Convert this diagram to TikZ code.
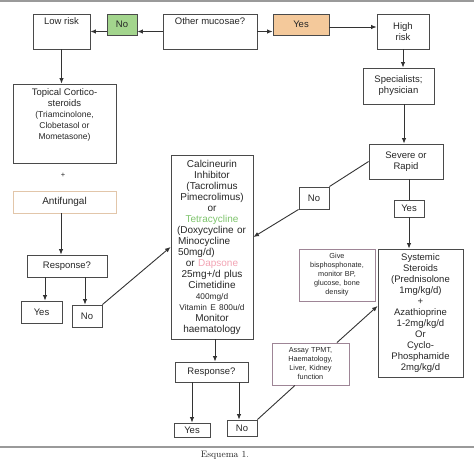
\documentclass[tikz,border=0pt]{standalone}
\usepackage{fontspec}
\newfontfamily\arialf{Liberation Sans}
\usetikzlibrary{arrows.meta,calc}
\definecolor{ln}{HTML}{333333}
\definecolor{bd}{HTML}{4A4A4A}
\definecolor{tx}{HTML}{262626}
\definecolor{gfill}{HTML}{A3D58D}
\definecolor{ofill}{HTML}{F4C99B}
\definecolor{tetra}{HTML}{7DC36B}
\definecolor{daps}{HTML}{F2A3B3}
\definecolor{pbd}{HTML}{9E8596}
\definecolor{tbd}{HTML}{E2C6AA}
\definecolor{rulec}{HTML}{9A9A9A}
\newcommand\fsm{\fontsize{8.5}{10.6}\selectfont}
\newcommand\fxs{\fontsize{8.3}{11}\selectfont}
\begin{document}
\begin{tikzpicture}[x=1pt,y=-1pt,
  box/.style={draw=bd, line width=0.9pt, inner sep=1pt, align=center,
    font=\arialf\fontsize{9.5}{11}\selectfont, text=tx},
  txt/.style={font=\arialf\fontsize{9.5}{11}\selectfont, text=tx, align=center},
  small/.style={font=\arialf\fontsize{7.3}{9}\selectfont},
  arr/.style={draw=ln, line width=0.9pt, -{Latex[length=5.5pt,width=4.6pt]}},
  ln/.style={draw=ln, line width=0.9pt},
  rule/.style={draw=rulec, line width=2pt}]
\useasboundingbox (0,0) rectangle (474,461);
\draw[rule] (0,1) -- (474,1);
\draw[rule] (0,447) -- (474,447);

% top row
\node[box, minimum width=57pt, minimum height=35pt,
  label={[txt,anchor=north,yshift=-1pt]north:Low risk}] (lr) at (61.5,31.5) {};
\node[box, fill=gfill, minimum width=30pt, minimum height=21pt] (no1) at (122,24.5) {No};
\node[box, minimum width=94pt, minimum height=35pt,
  label={[txt,anchor=north,yshift=-1pt]north:Other mucosae?}] (om) at (210,31.5) {};
\node[box, fill=ofill, draw=bd, minimum width=56pt, minimum height=21pt] (yes1) at (301,24.5) {Yes};
\node[box, minimum width=52pt, minimum height=35pt] (hr) at (403,31.5) {High\\risk};

% right column
\node[box, minimum width=71pt, minimum height=36pt] (sp) at (398.5,86) {Specialists;\\physician};
\node[box, minimum width=74pt, minimum height=35pt] (sv) at (406,161.5) {Severe or\\Rapid};
\node[box, minimum width=30pt, minimum height=22pt] (no2) at (314,198) {No};
\node[box, minimum width=30pt, minimum height=17pt] (yes2) at (409,208.5) {Yes};
\node[box, minimum width=85pt, minimum height=128pt, text width=81pt] (sys) at (420.5,313)
  {Systemic\\Steroids\\(Prednisolone\\1mg/kg/d)\\+\\Azathioprine\\1-2mg/kg/d\\Or\\Cyclo-\\Phosphamide\\2mg/kg/d};
\node[box, small, draw=pbd, minimum width=76pt, minimum height=52pt, text width=72pt] (gb) at (337,275)
  {Give\\bisphosphonate,\\monitor BP,\\glucose, bone\\density};
\node[box, small, draw=pbd, minimum width=77pt, minimum height=42pt, text width=73pt] (at) at (310.5,364)
  {Assay TPMT,\\Haematology,\\Liver, Kidney\\function};

% middle column
\node[box, font=\arialf\fontsize{10}{11}\selectfont, minimum width=82pt, minimum height=184pt, text width=76pt] (ci) at (212,247)
  {Calcineurin\\Inhibitor\\(Tacrolimus\\Pimecrolimus)\\or\\{\color{tetra}Tetracycline}\\
   \makebox[\linewidth][l]{\hspace{3pt}(Doxycycline or}\\
   \makebox[\linewidth][l]{\hspace{4pt}Minocycline}\\
   \makebox[\linewidth][l]{\hspace{4pt}50mg/d)}\\
   or {\color{daps}Dapsone}\\25mg+/d plus\\Cimetidine\\{\fxs 400mg/d}\\{\fxs Vitamin E 800u/d}\\Monitor\\haematology};
\node[box, minimum width=73pt, minimum height=20pt] (rs2) at (211.5,372) {Response?};
\node[box, minimum width=36pt, minimum height=14pt] (yes3) at (192,430) {Yes};
\node[box, minimum width=30pt, minimum height=16pt] (no3) at (242,428) {No};

% left column
\node[box, minimum width=103pt, minimum height=79pt,
  label={[txt,anchor=north,yshift=-2pt]north:Topical Cortico-\\steroids\\{\fsm(Triamcinolone,}\\{\fsm Clobetasol or}\\{\fsm Mometasone)}}] (tc) at (64.5,123.5) {};
\node[txt, font=\arialf\fontsize{7.5}{8}\selectfont] (plus) at (63,175) {+};
\node[box, draw=tbd, font=\arialf\fontsize{10}{12}\selectfont, minimum width=103pt, minimum height=22pt] (af) at (64.5,202) {Antifungal};
\node[box, minimum width=80pt, minimum height=22pt] (rs1) at (67,266) {Response?};
\node[box, minimum width=41pt, minimum height=22pt] (yes4) at (41.5,312) {Yes};
\node[box, minimum width=30pt, minimum height=22pt] (no4) at (87,316) {No};

\node[font=\fontsize{9.3}{10}\selectfont, text=tx] (cap) at (225,455) {Esquema 1.};

% connectors
\draw[arr] (om.west) -- (om.west -| no1.east);
\draw[arr] (om.west -| no1.west) -- (lr.east);
\draw[arr] (om.east) -- (om.east -| yes1.west);
\draw[arr] ([yshift=-2.5pt]yes1.east) -- ([yshift=-2.5pt]yes1.east -| hr.west);
\draw[arr] (hr.south) -- (hr.south |- sp.north);
\draw[arr] ([xshift=5.5pt]sp.south) -- ([xshift=5.5pt]sp.south |- sv.north);
\draw[ln] (yes2.north |- sv.south) -- (yes2.north);
\draw[arr] (yes2.south) -- (yes2.south |- sys.north);
\draw[ln] (sv.west) -- (no2.north east);
\draw[arr] (no2.south west) -- ([yshift=10pt]ci.east);
\draw[arr] (lr.south) -- (lr.south |- tc.north);
\draw[arr] ([xshift=-3.5pt]af.south) -- ([xshift=-3.5pt]af.south |- rs1.north);
\draw[arr] ([xshift=-22pt]rs1.south) -- ([xshift=-22pt]rs1.south |- yes4.north);
\draw[arr] ([xshift=18pt]rs1.south) -- ([xshift=18pt]rs1.south |- no4.north);
\draw[arr] (no4.north east) -- (ci.west);
\draw[arr] ([xshift=3pt]ci.south) -- ([xshift=3pt]ci.south |- rs2.north);
\draw[arr] (yes3.north |- rs2.south) -- (yes3.north);
\draw[arr] ([xshift=-3pt]no3.north |- rs2.south) -- ([xshift=-3pt]no3.north);
\draw[ln] (no3.north east) -- ($(at.south west)!0.3!(at.south east)$);
\draw[arr] ($(at.north west)!0.84!(at.north east)$) -- ([yshift=7pt]sys.west);
\end{tikzpicture}
\end{document}
